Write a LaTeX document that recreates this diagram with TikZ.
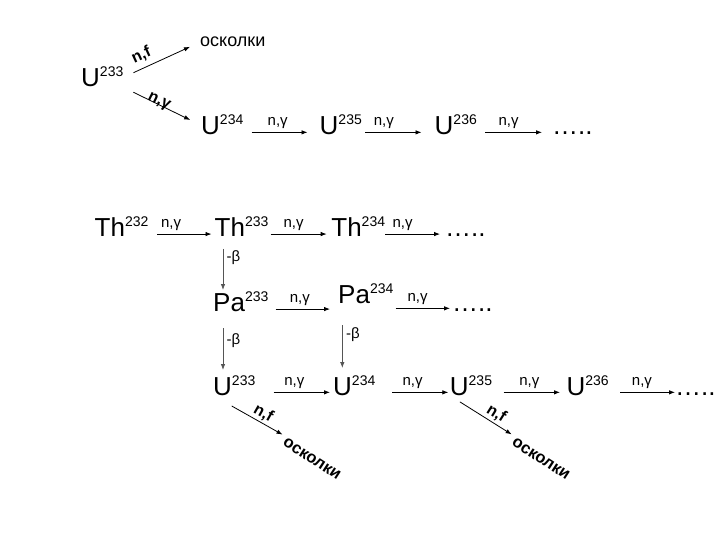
\documentclass[tikz,border=0pt]{standalone}
\usepackage{fontspec}
\setmainfont{Liberation Sans}
\usetikzlibrary{arrows.meta}
\definecolor{arrgray}{RGB}{85,85,85}
\newcommand{\iso}[2]{#1\raisebox{10pt}{\fontsize{14}{16}\selectfont #2}}
\tikzset{
  nuc/.style={anchor=base west, inner sep=0pt, font=\fontsize{26}{30}\selectfont},
  ar/.style={-{Latex[length=6pt,width=4.5pt]}, line width=0.8pt},
  dec/.style={ar, draw=arrgray},
  ng/.style={above, font=\fontsize{15}{18}\selectfont},
  bl/.style={right, font=\fontsize{15}{18}\selectfont},
  nf/.style={sloped, font=\fontsize{16}{18}\selectfont\bfseries},
  frag/.style={inner sep=0pt, font=\fontsize{16.5}{18}\selectfont\bfseries}
}

\begin{document}
\begin{tikzpicture}[x=1pt, y=-1pt]
        \useasboundingbox (0,0) rectangle (720,540);

        % U-233 chain
        \node[nuc] (u233a) at (81,87) {\iso{U}{233}};
        \node[nuc, font=\fontsize{18}{20}\selectfont] (osk1) at (200,47) {осколки};
        \node[nuc] (u234a) at (201,135) {\iso{U}{234}};
        \node[nuc] (u235a) at (319.5,135) {\iso{U}{235}};
        \node[nuc] (u236a) at (434.5,135) {\iso{U}{236}};
        \node[nuc] (dots1) at (552,135) {…..};

        \draw[ar, shorten <=11pt, shorten >=11pt] (u233a.east) -- (osk1.west) node[nf, above, pos=.3, inner sep=5pt] {n,f};
        \draw[ar, shorten <=11pt, shorten >=12pt] (u233a.south east) -- (u234a.west) node[nf, anchor=base, pos=.44] {n,γ};
        \draw[ar, shorten <=8pt, shorten >=12pt] (u234a.mid east) -- (u235a.mid west) node[ng, pos=.45] {n,γ};
        \draw[ar, shorten <=3pt, shorten >=13pt] (u235a.mid east) -- (u236a.mid west) node[ng, pos=.3] {n,γ};
        \draw[ar, shorten <=8pt, shorten >=10pt] (u236a.mid east) -- (dots1.mid west) node[ng, pos=.42] {n,γ};

        % Th-232 chain
        \node[nuc] (th232) at (94.5,236.7) {\iso{Th}{232}};
        \node[nuc] (th233) at (214.5,236.7) {\iso{Th}{233}};
        \node[nuc] (th234) at (331.2,236.7) {\iso{Th}{234}};
        \node[nuc] (dots2) at (445,236.7) {…..};

        \draw[ar, shorten <=8.5pt, shorten >=3pt] (th232.mid east) -- (th233.mid west) node[ng, pos=.34] {n,γ};
        \draw[ar, shorten <=2pt, shorten >=4.5pt] (th233.mid east) -- (th234.mid west) node[ng, pos=.4] {n,γ};
        \draw[ar, shorten >=5pt] (th234.mid east) -- (dots2.mid west) node[ng, pos=.29] {n,γ};

        \node[nuc] (pa233) at (213,311.7) {\iso{Pa}{233}};
        \node[nuc] (pa234) at (338,303) {\iso{Pa}{234}};
        \node[nuc] (dots3) at (452,311) {…..};

        \draw[ar, shorten <=7pt, shorten >=8pt] (pa233.mid east) -- (pa233.mid east -| pa234.west) node[ng, pos=.45] {n,γ};
        \draw[ar, shorten <=2pt, shorten >=2pt] (pa234.east |- dots3.mid) -- (dots3.mid west) node[ng, pos=.41] {n,γ};

        \node[nuc] (u233b) at (213,395) {\iso{U}{233}};
        \node[nuc] (u234b) at (333,395) {\iso{U}{234}};
        \node[nuc] (u235b) at (449.7,395) {\iso{U}{235}};
        \node[nuc] (u236b) at (566.3,395) {\iso{U}{236}};
        \node[nuc] (dots4) at (675,395) {…..};

        \draw[ar, shorten <=18pt, shorten >=3pt] (u233b.mid east) -- (u234b.mid west) node[ng, midway] {n,γ};
        \draw[ar, shorten <=16.7pt, shorten >=1.4pt] (u234b.mid east) -- (u235b.mid west) node[ng, midway] {n,γ};
        \draw[ar, shorten <=11.5pt, shorten >=6.3pt] (u235b.mid east) -- (u236b.mid west) node[ng, midway] {n,γ};
        \draw[ar, shorten <=11.6pt] (u236b.mid east) -- (dots4.mid west) node[ng, midway] {n,γ};

        % beta decays
        \coordinate (b1) at ([xshift=8.5pt]th233.south west);
        \coordinate (b2) at ([xshift=10pt]pa233.south west);
        \coordinate (b3) at ([xshift=4.3pt]pa234.south west);
        \draw[dec, shorten <=12pt, shorten >=1.7pt] (b1) -- (b1 |- pa233.north) node[bl, pos=.37] {-β};
        \draw[dec, shorten <=16.3pt, shorten >=5pt] (b2) -- (b2 |- u233b.north) node[bl, pos=.45] {-β};
        \draw[dec, shorten <=22pt, shorten >=7pt] (b3) -- (b3 |- u234b.north) node[bl, pos=.44] {-β};

        % fission
        \node[frag, rotate=-33] (osk2) at (312,459) {осколки};
        \node[frag, rotate=-33] (osk3) at (541,459) {осколки};
        \draw[ar, shorten <=21.5pt, shorten >=5pt] (u233b.south west) -- (osk2.north west) node[nf, above, pos=.62, inner sep=2pt] {n,f};
        \draw[ar, shorten <=12pt, shorten >=5pt] (u235b.south west) -- (osk3.north west) node[nf, above, pos=.63, inner sep=2pt] {n,f};
\end{tikzpicture}
\end{document}
